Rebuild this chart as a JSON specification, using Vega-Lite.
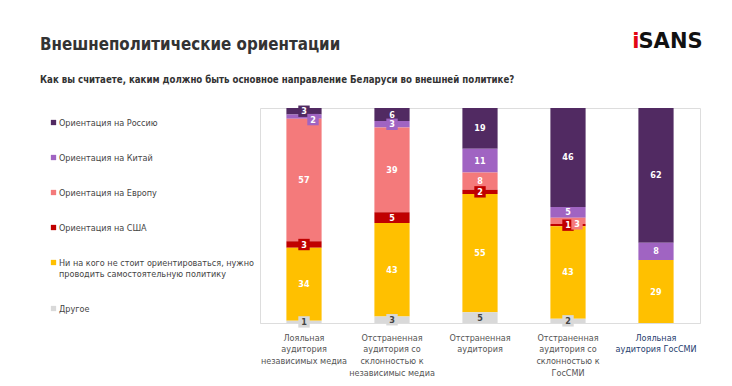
{
  "$schema": "https://vega.github.io/schema/vega-lite/v6.json",
  "width": 440,
  "height": 215,
  "autosize": "none",
  "padding": {"left": 260, "top": 108, "right": 32, "bottom": 63},
  "background": "white",
  "title": {
    "text": "Внешнеполитические ориентации",
    "subtitle": "Как вы считаете, каким должно быть основное направление Беларуси во внешней политике?",
    "anchor": "start",
    "frame": "group",
    "dx": -220,
    "offset": -55,
    "font": "DejaVu Sans Condensed",
    "fontSize": 16.8,
    "fontWeight": "bold",
    "color": "#333333",
    "subtitleFont": "DejaVu Sans Condensed",
    "subtitleFontSize": 9.6,
    "subtitleFontWeight": "bold",
    "subtitleColor": "#333333",
    "subtitlePadding": 22
  },
  "datasets": {
    "seriesOrder": [
      {"series": "Ориентация на Россию", "rank": 1},
      {"series": "Ориентация на Китай", "rank": 2},
      {"series": "Ориентация на Европу", "rank": 3},
      {"series": "Ориентация на США", "rank": 4},
      {"series": "Ни на кого не стоит ориентироваться, нужно проводить самостоятельную политику", "rank": 5},
      {"series": "Другое", "rank": 6}
    ]
  },
  "data": {
    "values": [
      {"group": "Лояльная\nаудитория\nнезависимых медиа", "series": "Ориентация на Россию", "value": 3},
      {"group": "Лояльная\nаудитория\nнезависимых медиа", "series": "Ориентация на Китай", "value": 2},
      {"group": "Лояльная\nаудитория\nнезависимых медиа", "series": "Ориентация на Европу", "value": 57},
      {"group": "Лояльная\nаудитория\nнезависимых медиа", "series": "Ориентация на США", "value": 3},
      {"group": "Лояльная\nаудитория\nнезависимых медиа", "series": "Ни на кого не стоит ориентироваться, нужно проводить самостоятельную политику", "value": 34},
      {"group": "Лояльная\nаудитория\nнезависимых медиа", "series": "Другое", "value": 1},
      {"group": "Отстраненная\nаудитория со\nсклонностью к\nнезависимыс медиа", "series": "Ориентация на Россию", "value": 6},
      {"group": "Отстраненная\nаудитория со\nсклонностью к\nнезависимыс медиа", "series": "Ориентация на Китай", "value": 3},
      {"group": "Отстраненная\nаудитория со\nсклонностью к\nнезависимыс медиа", "series": "Ориентация на Европу", "value": 39},
      {"group": "Отстраненная\nаудитория со\nсклонностью к\nнезависимыс медиа", "series": "Ориентация на США", "value": 5},
      {"group": "Отстраненная\nаудитория со\nсклонностью к\nнезависимыс медиа", "series": "Ни на кого не стоит ориентироваться, нужно проводить самостоятельную политику", "value": 43},
      {"group": "Отстраненная\nаудитория со\nсклонностью к\nнезависимыс медиа", "series": "Другое", "value": 3},
      {"group": "Отстраненная\nаудитория", "series": "Ориентация на Россию", "value": 19},
      {"group": "Отстраненная\nаудитория", "series": "Ориентация на Китай", "value": 11},
      {"group": "Отстраненная\nаудитория", "series": "Ориентация на Европу", "value": 8},
      {"group": "Отстраненная\nаудитория", "series": "Ориентация на США", "value": 2},
      {"group": "Отстраненная\nаудитория", "series": "Ни на кого не стоит ориентироваться, нужно проводить самостоятельную политику", "value": 55},
      {"group": "Отстраненная\nаудитория", "series": "Другое", "value": 5},
      {"group": "Отстраненная\nаудитория со\nсклонностью к\nГосСМИ", "series": "Ориентация на Россию", "value": 46},
      {"group": "Отстраненная\nаудитория со\nсклонностью к\nГосСМИ", "series": "Ориентация на Китай", "value": 5},
      {"group": "Отстраненная\nаудитория со\nсклонностью к\nГосСМИ", "series": "Ориентация на Европу", "value": 3},
      {"group": "Отстраненная\nаудитория со\nсклонностью к\nГосСМИ", "series": "Ориентация на США", "value": 1},
      {"group": "Отстраненная\nаудитория со\nсклонностью к\nГосСМИ", "series": "Ни на кого не стоит ориентироваться, нужно проводить самостоятельную политику", "value": 43},
      {"group": "Отстраненная\nаудитория со\nсклонностью к\nГосСМИ", "series": "Другое", "value": 2},
      {"group": "Лояльная\nаудитория ГосСМИ", "series": "Ориентация на Россию", "value": 62},
      {"group": "Лояльная\nаудитория ГосСМИ", "series": "Ориентация на Китай", "value": 8},
      {"group": "Лояльная\nаудитория ГосСМИ", "series": "Ни на кого не стоит ориентироваться, нужно проводить самостоятельную политику", "value": 29}
    ]
  },
  "transform": [
    {"lookup": "series", "from": {"data": {"name": "seriesOrder"}, "key": "series", "fields": ["rank"]}}
  ],
  "encoding": {
    "x": {
      "field": "group",
      "type": "nominal",
      "sort": null,
      "scale": {"paddingInner": 0.6, "paddingOuter": 0.3},
      "axis": {
        "title": "i",
        "titleColor": "#E30613",
        "titleFont": "DejaVu Sans",
        "titleFontSize": 21,
        "titleFontWeight": "bold",
        "titleX": 379,
        "titleY": -276,
        "titleAlign": "right",
        "titleBaseline": "alphabetic",
        "labelAngle": 0,
        "labelExpr": "split(datum.label, '\\n')",
        "labelFont": "DejaVu Sans Condensed",
        "labelFontSize": 9,
        "labelColor": {"condition": {"test": "datum.value == 'Лояльная\\nаудитория ГосСМИ'", "value": "#26406E"}, "value": "#555555"},
        "labelLineHeight": 11.8,
        "labelPadding": 10,
        "labelLimit": 200,
        "ticks": false,
        "domainColor": "#dddddd"
      }
    },
    "y": {
      "field": "value",
      "type": "quantitative",
      "stack": "normalize",
      "axis": {
        "title": "SANS",
        "titleAngle": 0,
        "titleAlign": "left",
        "titleBaseline": "alphabetic",
        "titleX": 378,
        "titleY": -61,
        "titleFont": "DejaVu Sans",
        "titleFontSize": 21,
        "titleFontWeight": "bold",
        "titleColor": "#111111",
        "labels": false,
        "ticks": false,
        "domain": false,
        "grid": false
      }
    },
    "order": {"field": "rank", "type": "quantitative", "sort": "descending"},
    "color": {
      "field": "series",
      "type": "nominal",
      "sort": ["Ориентация на Россию", "Ориентация на Китай", "Ориентация на Европу", "Ориентация на США", "Ни на кого не стоит ориентироваться, нужно проводить самостоятельную политику", "Другое"],
      "scale": {
        "domain": ["Ориентация на Россию", "Ориентация на Китай", "Ориентация на Европу", "Ориентация на США", "Ни на кого не стоит ориентироваться, нужно проводить самостоятельную политику", "Другое"],
        "range": ["#512A62", "#A064C2", "#F47A7B", "#C00000", "#FFC000", "#D9D9D9"]
      },
      "legend": {
        "orient": "none",
        "legendX": -211,
        "legendY": 10,
        "title": null,
        "padding": 0,
        "direction": "vertical",
        "symbolType": "square",
        "symbolSize": 28,
        "symbolStrokeWidth": 0,
        "labelFont": "DejaVu Sans Condensed",
        "labelFontSize": 9,
        "labelColor": "#444444",
        "labelLimit": 300,
        "labelOffset": 1,
        "rowPadding": 25,
        "labelExpr": "datum.label == 'Ни на кого не стоит ориентироваться, нужно проводить самостоятельную политику' ? ['Ни на кого не стоит ориентироваться, нужно', 'проводить самостоятельную политику'] : datum.label"
      }
    }
  },
  "layer": [
    {"mark": {"type": "bar"}},
    {
      "mark": {"type": "square", "opacity": 1, "strokeWidth": 0},
      "encoding": {
        "y": {"field": "value", "type": "quantitative", "stack": "normalize", "bandPosition": 0.5},
        "size": {"condition": {"test": "datum.value <= 3 && !((datum.series == 'Ориентация на Китай' && datum.group == 'Лояльная\\nаудитория\\nнезависимых медиа') || (datum.series == 'Ориентация на Европу' && datum.group == 'Отстраненная\\nаудитория со\\nсклонностью к\\nГосСМИ'))", "value": 130}, "value": 0}
      }
    },
    {
      "mark": {"type": "text", "font": "DejaVu Sans Condensed", "fontSize": 9, "fontWeight": "bold", "baseline": "middle"},
      "encoding": {
        "y": {"field": "value", "type": "quantitative", "stack": "normalize", "bandPosition": 0.5},
        "text": {"field": "value", "type": "quantitative"},
        "fill": {"condition": {"test": "datum.series === 'Другое'", "value": "#444444"}, "value": "#ffffff"},
        "opacity": {"condition": {"test": "(datum.series == 'Ориентация на Китай' && datum.group == 'Лояльная\\nаудитория\\nнезависимых медиа') || (datum.series == 'Ориентация на Европу' && datum.group == 'Отстраненная\\nаудитория со\\nсклонностью к\\nГосСМИ')", "value": 0}, "value": 1}
      }
    },
    {
      "mark": {"type": "square", "opacity": 1, "strokeWidth": 0, "xOffset": 9, "yOffset": 3},
      "encoding": {
        "y": {"field": "value", "type": "quantitative", "stack": "normalize", "bandPosition": 0.5},
        "size": {"condition": {"test": "(datum.series == 'Ориентация на Китай' && datum.group == 'Лояльная\\nаудитория\\nнезависимых медиа') || (datum.series == 'Ориентация на Европу' && datum.group == 'Отстраненная\\nаудитория со\\nсклонностью к\\nГосСМИ')", "value": 130}, "value": 0}
      }
    },
    {
      "mark": {"type": "text", "font": "DejaVu Sans Condensed", "fontSize": 9, "fontWeight": "bold", "baseline": "middle", "xOffset": 9, "yOffset": 3},
      "encoding": {
        "y": {"field": "value", "type": "quantitative", "stack": "normalize", "bandPosition": 0.5},
        "text": {"field": "value", "type": "quantitative"},
        "fill": {"value": "#ffffff"},
        "opacity": {"condition": {"test": "(datum.series == 'Ориентация на Китай' && datum.group == 'Лояльная\\nаудитория\\nнезависимых медиа') || (datum.series == 'Ориентация на Европу' && datum.group == 'Отстраненная\\nаудитория со\\nсклонностью к\\nГосСМИ')", "value": 1}, "value": 0}
      }
    }
  ]
}
